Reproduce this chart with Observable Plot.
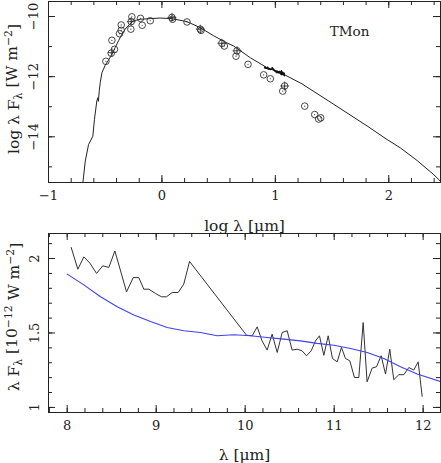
<!DOCTYPE html>
<html><head><meta charset="utf-8">
<script src="https://cdn.jsdelivr.net/npm/d3@7"></script>
<script src="https://cdn.jsdelivr.net/npm/@observablehq/plot@0.6"></script>
<style>
html,body{margin:0;padding:0;background:#fff;}
#chart svg{display:block;}
</style></head><body><div id="chart"></div>
<script>
// ---- Top panel: SED (log-log) ----
const modelLogLam  = [-0.697,-0.676,-0.647,-0.609,-0.595,-0.574,-0.565,-0.56,-0.552,-0.544,-0.529,-0.5,-0.471,-0.441,-0.412,-0.383,-0.353,-0.324,-0.286,-0.25,-0.191,-0.103,-0.015,0.088,0.221,0.338,0.456,0.574,0.632,0.779,0.926,1.073,1.235,1.515,1.809,1.985,2.103,2.25,2.397,2.456];
const modelLogFlux = [-15.53,-14.81,-14.26,-13.98,-13.42,-12.81,-12.70,-12.82,-12.45,-12.20,-11.87,-11.62,-11.45,-11.25,-11.03,-10.81,-10.59,-10.42,-10.26,-10.14,-10.09,-10.07,-10.05,-10.07,-10.17,-10.37,-10.64,-10.88,-10.98,-11.37,-11.70,-11.92,-12.24,-12.92,-13.64,-14.09,-14.37,-14.79,-15.26,-15.48];
const photLogLam  = [-0.494,-0.441,-0.447,-0.418,-0.374,-0.359,-0.359,-0.274,-0.265,-0.271,-0.189,-0.174,-0.103,0.088,0.094,0.221,0.338,0.345,0.529,0.550,0.662,0.653,0.759,0.897,0.956,1.082,1.065,1.259,1.347,1.382,1.400];
const photLogFlux = [-11.49,-10.79,-11.22,-11.09,-10.57,-10.46,-10.28,-10.42,-10.01,-10.17,-10.06,-10.29,-10.14,-10.03,-10.09,-10.18,-10.42,-10.46,-10.89,-10.98,-11.14,-11.32,-11.59,-11.94,-12.07,-12.31,-12.48,-12.98,-13.26,-13.41,-13.37];
const errLogLam  = [-0.441,-0.271,0.088,0.338,0.529,0.662,1.082];
const errLogFlux = [-11.2,-10.17,-10.03,-10.42,-10.89,-11.14,-12.31];
const targetName = "TMon";

// ---- Bottom panel: mid-IR spectrum (units of 1e-12 W m^-2) ----
const specLam  = [8.045,8.12,8.187,8.255,8.33,8.40,8.468,8.536,8.667,8.742,8.805,8.861,8.918,8.993,9.06,9.116,9.18,9.247,9.31,9.375,10.015,10.079,10.135,10.19,10.247,10.303,10.36,10.416,10.472,10.528,10.584,10.64,10.689,10.742,10.79,10.835,10.884,10.933,10.981,11.034,11.082,11.127,11.176,11.228,11.277,11.326,11.37,11.427,11.476,11.528,11.577,11.625,11.67,11.727,11.783,11.839,11.895,11.944,11.989];
const specFlux = [2.074,1.928,2.011,1.969,1.90,1.951,1.94,2.051,1.776,1.872,1.872,1.794,1.794,1.765,1.743,1.743,1.772,1.772,1.828,1.98,1.485,1.481,1.541,1.447,1.385,1.492,1.369,1.503,1.515,1.385,1.391,1.38,1.347,1.38,1.447,1.481,1.35,1.481,1.329,1.306,1.403,1.329,1.313,1.201,1.201,1.57,1.172,1.264,1.273,1.347,1.224,1.391,1.186,1.22,1.22,1.268,1.251,1.306,1.074];
const fitLam  = [8,8.187,8.375,8.562,8.749,8.936,9.124,9.311,9.498,9.685,9.873,10.06,10.247,10.434,10.622,10.809,10.996,11.184,11.371,11.558,11.745,11.933,12.195];
const fitFlux = [1.895,1.823,1.743,1.676,1.62,1.577,1.537,1.515,1.503,1.481,1.488,1.481,1.47,1.459,1.447,1.43,1.418,1.396,1.369,1.329,1.273,1.224,1.174];

// ---- tick labels ----
const topXTicks = [-1,0,1,2];
const topYTicks = [-10,-12,-14];
const botXTicks = [8,9,10,11,12];
const botYTicks = [1,1.5,2];

const fmt = d => (d < 0 ? "\u2212" + Math.abs(d) : String(d));
const ink = "#222";
const serif = "DejaVu Serif, serif";
const tickFS = 13, labelFS = 15.5;

function frameTicks(xs, ys, len, plotW, plotH) {
  return [
    Plot.ruleX(xs, {x: d => d, insetTop: plotH - len, stroke: ink}),
    Plot.ruleX(xs, {x: d => d, insetBottom: plotH - len, stroke: ink}),
    Plot.ruleY(ys, {y: d => d, insetRight: plotW - len, stroke: ink}),
    Plot.ruleY(ys, {y: d => d, insetLeft: plotW - len, stroke: ink})
  ];
}

const W = 441;
// top plot geometry
const tH = 232, tMT = 1, tMB = 50, tML = 48, tMR = 1;
const tPW = W - tML - tMR, tPH = tH - tMT - tMB;
const topXDom = [-1, 2.456], topYDom = [-15.52, -9.5];
const topXMinor = d3.range(-1, 2.46, 0.2);
const topYMinor = d3.range(-15, -9.5, 1);

const specTop = specLam.map((l, i) => ({x: Math.log10(l), y: Math.log10(specFlux[i]) - 12}));
const model = modelLogLam.map((x, i) => ({x, y: modelLogFlux[i]}));
const phot = photLogLam.map((x, i) => ({x, y: photLogFlux[i]}));
const errs = errLogLam.map((x, i) => ({x, y: errLogFlux[i]}));

const TOP_YLABEL = "log \u03bb F\u03bb [W m-2]";
const BOT_YLABEL = "\u03bb F\u03bb [10-12 W m-2]";

const topPlot = Plot.plot({
  width: W, height: tH, marginTop: tMT, marginBottom: tMB, marginLeft: tML, marginRight: tMR,
  x: {domain: topXDom, axis: null},
  y: {domain: topYDom, axis: null},
  style: {fontFamily: serif, overflow: "visible", background: "transparent"},
  marks: [
    Plot.line(model, {x: "x", y: "y", stroke: ink, strokeWidth: 1, clip: true}),
    Plot.line(specTop, {x: "x", y: "y", stroke: "#111", strokeWidth: 1.6}),
    Plot.dot(errs, {x: "x", y: "y", symbol: "plus", r: 3, stroke: ink, strokeWidth: 0.8}),
    Plot.dot(phot, {x: "x", y: "y", r: 3.3, stroke: "#333", strokeWidth: 0.9, fill: "none"}),
    Plot.dot(phot, {x: "x", y: "y", r: 0.6, fill: "#333", stroke: "none"}),
    ...frameTicks(topXMinor, topYMinor, 4, tPW, tPH),
    ...frameTicks(topXTicks, topYTicks, 7, tPW, tPH),
    Plot.frame({stroke: ink}),
    Plot.text(topXTicks, {x: d => d, frameAnchor: "bottom", dy: 13, text: fmt, textAnchor: "middle", lineAnchor: "middle", fontSize: tickFS, fill: ink}),
    Plot.text(topYTicks, {y: d => d, frameAnchor: "left", dx: -15, rotate: -90, text: fmt, textAnchor: "middle", lineAnchor: "middle", fontSize: tickFS, fill: ink}),
    Plot.text([TOP_YLABEL], {frameAnchor: "left", dx: -30, dy: -3, rotate: -90, textAnchor: "middle", lineAnchor: "bottom", fontSize: labelFS, fill: ink}),
    Plot.text(["log \u03bb [\u03bcm]"], {frameAnchor: "bottom", dy: 48, textAnchor: "middle", lineAnchor: "bottom", fontSize: labelFS, fill: ink}),
    Plot.text([targetName], {frameAnchor: "top-right", dx: -91, dy: 34, textAnchor: "middle", lineAnchor: "bottom", fontSize: 13.5, fill: ink})
  ]
});

// bottom plot geometry
const bH = 231, bMT = 1, bMB = 51, bML = 48, bMR = 1;
const bPW = W - bML - bMR, bPH = bH - bMT - bMB;
const botXDom = [7.79, 12.195], botYDom = [0.966, 2.168];
const botXMinor = d3.range(7.8, 12.2, 0.2);
const botYMinor = d3.range(1, 2.17, 0.1);
const spec = specLam.map((x, i) => ({x, y: specFlux[i]}));
const fit = fitLam.map((x, i) => ({x, y: fitFlux[i]}));

const botPlot = Plot.plot({
  width: W, height: bH, marginTop: bMT, marginBottom: bMB, marginLeft: bML, marginRight: bMR,
  x: {domain: botXDom, axis: null},
  y: {domain: botYDom, axis: null},
  style: {fontFamily: serif, overflow: "visible", background: "transparent"},
  marks: [
    Plot.line(spec, {x: "x", y: "y", stroke: "#333", strokeWidth: 1}),
    Plot.line(fit, {x: "x", y: "y", stroke: "#4040f0", strokeWidth: 1.1, clip: true}),
    ...frameTicks(botXMinor, botYMinor, 4, bPW, bPH),
    ...frameTicks(botXTicks, botYTicks, 7, bPW, bPH),
    Plot.frame({stroke: ink}),
    Plot.text(botXTicks, {x: d => d, frameAnchor: "bottom", dy: 13, text: fmt, textAnchor: "middle", lineAnchor: "middle", fontSize: tickFS, fill: ink}),
    Plot.text(botYTicks, {y: d => d, frameAnchor: "left", dx: -14, rotate: -90, text: fmt, textAnchor: "middle", lineAnchor: "middle", fontSize: tickFS, fill: ink}),
    Plot.text([BOT_YLABEL], {frameAnchor: "left", dx: -30, dy: -6, rotate: -90, textAnchor: "middle", lineAnchor: "bottom", fontSize: labelFS, fill: ink}),
    Plot.text(["\u03bb [\u03bcm]"], {frameAnchor: "bottom", dy: 47, textAnchor: "middle", lineAnchor: "bottom", fontSize: labelFS, fill: ink})
  ]
});

// rich text (sub/superscripts) for axis labels
function rich(svg, plain, parts) {
  d3.select(svg).selectAll("text").filter(function() { return this.textContent === plain; }).each(function() {
    const t = d3.select(this);
    t.text(null);
    let cur = 0;
    for (const [s, kind] of parts) {
      const target = kind === "sub" ? 0.3 : kind === "sup" ? -0.45 : 0;
      const ts = t.append("tspan").text(s);
      if (target !== cur) ts.attr("dy", (target - cur) + "em");
      if (kind) ts.attr("font-size", "70%");
      cur = target;
    }
  });
}
rich(topPlot, TOP_YLABEL, [["log \u03bb F"], ["\u03bb", "sub"], [" [W m"], ["\u22122", "sup"], ["]"]]);
rich(botPlot, BOT_YLABEL, [["\u03bb F"], ["\u03bb", "sub"], [" [10"], ["\u221212", "sup"], [" W m"], ["\u22122", "sup"], ["]"]]);

const c = document.getElementById("chart");
c.appendChild(topPlot);
c.appendChild(botPlot);
</script>
</body></html>
